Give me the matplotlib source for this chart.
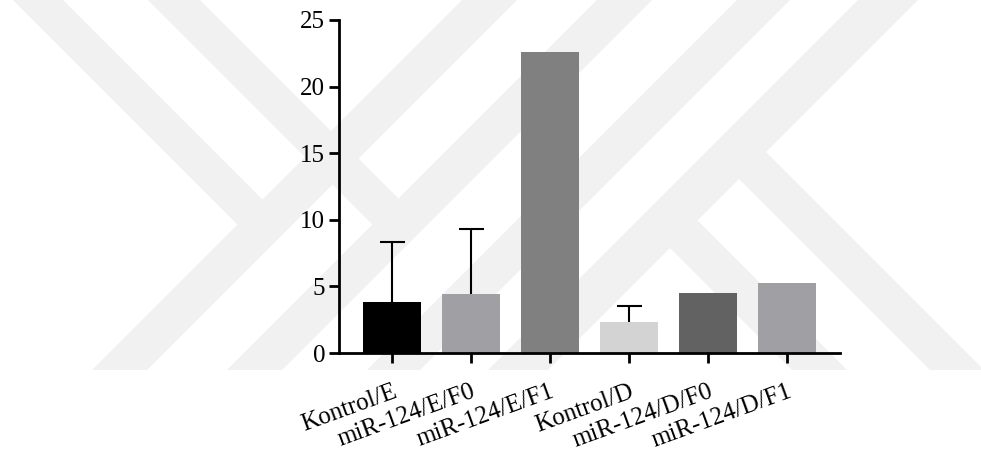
import numpy as np
import matplotlib.pyplot as plt
from matplotlib.patches import Polygon

groups = ['Kontrol/E', 'miR-124/E/F0', 'miR-124/E/F1',
          'Kontrol/D', 'miR-124/D/F0', 'miR-124/D/F1']
means = [3.81, 4.41, 22.62, 2.35, 4.53, 5.23]
sd = [4.55, 4.90, np.nan, 1.20, np.nan, np.nan]
colors = ['#000000', '#a09fa4', '#808080', '#d3d3d3', '#626262', '#a09fa4']

W, H = 981, 450
plt.rcParams['font.family'] = 'Liberation Serif'

fig = plt.figure(figsize=(W / 100, H / 100), dpi=100)

# faint chevron watermark behind everything, in pixel coordinates
bg = fig.add_axes([0, 0, 1, 1], zorder=0)
bg.set_xlim(0, W)
bg.set_ylim(H, 0)
bg.axis('off')
shade = '#f1f1f1'
cut = 370


def rising(x0, w):
    return [(x0, 0), (x0 + w, 0), (x0 + w - cut, cut), (x0 - cut, cut)]


def falling_to(x0, w, c):
    # band from the top edge going down-right, stopping on the line x = c - y
    y1 = (c - x0 - w) / 2
    y2 = (c - x0) / 2
    return [(x0, 0), (x0 + w, 0), (x0 + w + y1, y1), (x0 + y2, y2)]


def falling_from(b0, w, c):
    # band starting on the line x = c - y, going down-right to the cut
    ya = (c - b0 - w) / 2
    yb = (c - b0) / 2
    return [(c - ya, ya), (b0 + w + cut, cut), (b0 + cut, cut), (c - yb, yb)]


bands = [rising(462, 55), rising(597, 55), rising(737, 53), rising(858, 60),
         falling_to(13, 50, 489.5), falling_to(148, 52, 624.5),
         falling_from(560, 54, 888), falling_from(422, 55, 888)]
for pts in bands:
    bg.add_patch(Polygon(pts, closed=True, facecolor=shade, edgecolor='none'))

# bar chart
ax = fig.add_axes([339 / W, 1 - 353 / H, (840 - 339) / W, (353 - 20) / H], zorder=1)
ax.patch.set_alpha(0)

x = np.arange(len(groups))
ax.bar(x, means, width=0.73, color=colors, zorder=2)

# upper error bars only
idx = [i for i in range(len(groups)) if not np.isnan(sd[i])]
m = np.array(means)[idx]
e = np.array(sd)[idx]
eb = ax.errorbar(x[idx], m, yerr=[np.zeros(len(idx)), e], fmt='none', ecolor='black',
                 elinewidth=1.5, capsize=9, capthick=1.5, zorder=3)
for cap in eb[1]:
    if np.allclose(cap.get_ydata(), m):
        cap.set_visible(False)

ax.set_xlim(-0.671, 5.671)
ax.set_ylim(0, 25)
ax.set_yticks(range(0, 26, 5))
ax.set_xticks(x)
ax.set_xticklabels(groups, rotation=20, ha='right', rotation_mode='anchor')

for s in ['top', 'right']:
    ax.spines[s].set_visible(False)
for s in ['left', 'bottom']:
    ax.spines[s].set_linewidth(2)

ax.tick_params(axis='both', width=2, length=7, labelsize=18, direction='out')
ax.tick_params(axis='y', pad=3)
ax.tick_params(axis='x', pad=13)

fig.savefig('out.png', dpi=100)
